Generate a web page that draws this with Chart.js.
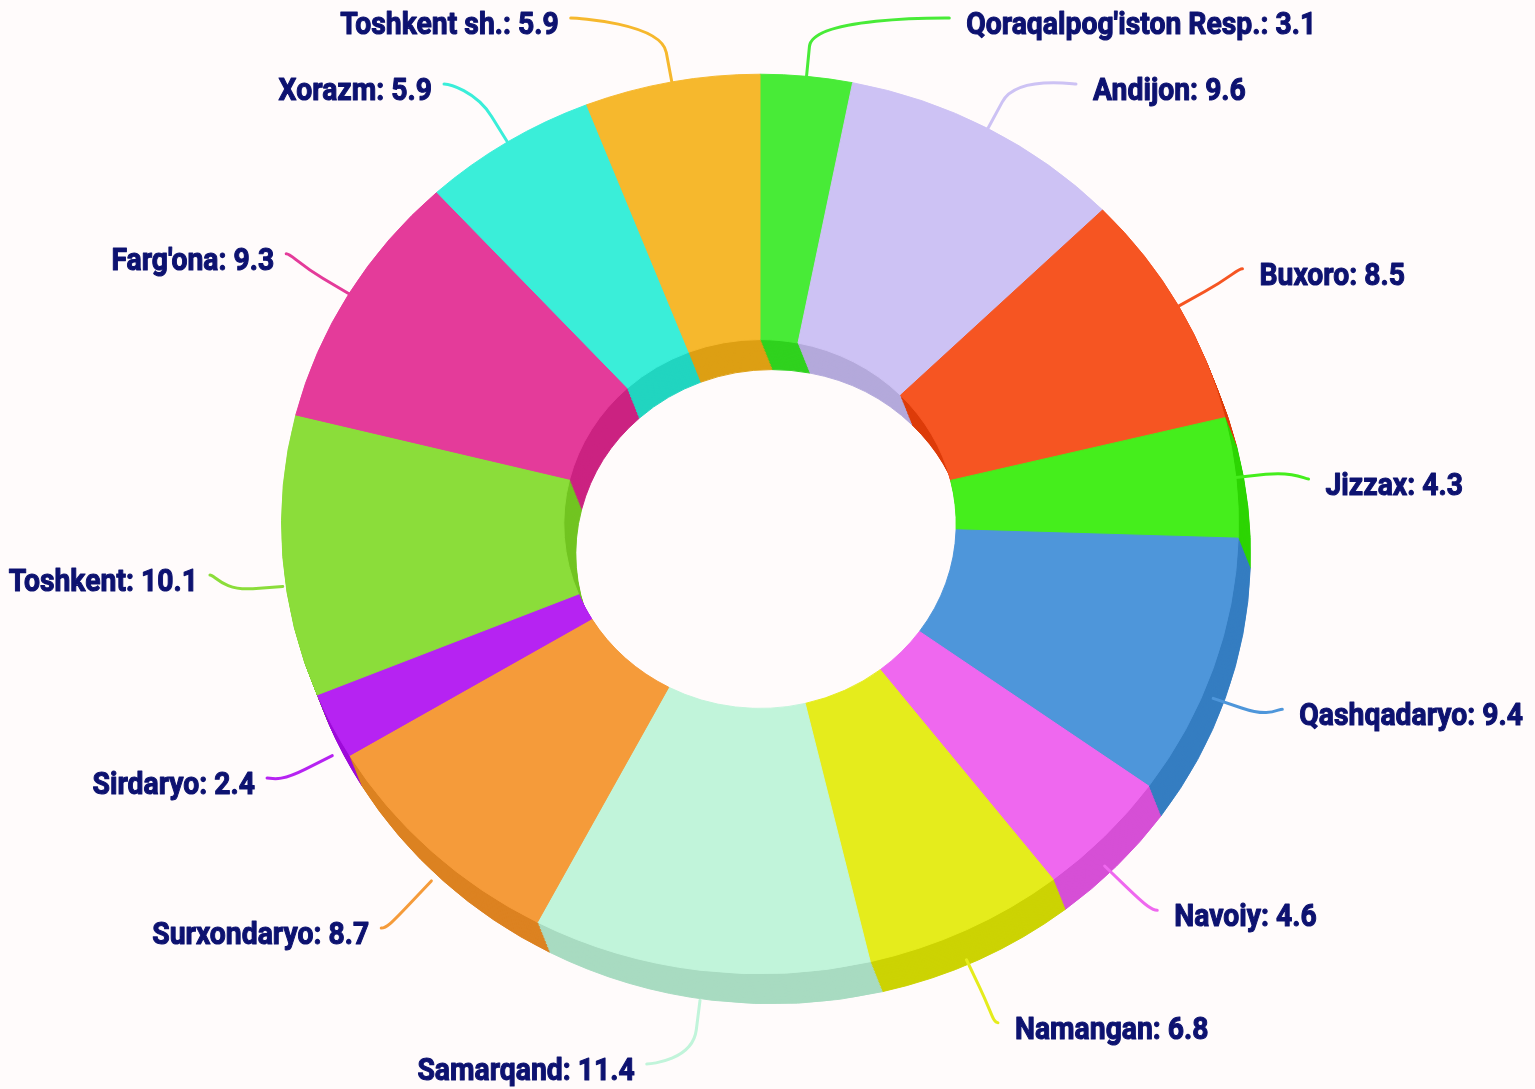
<!DOCTYPE html>
<html>
<head>
<meta charset="utf-8">
<script src="https://cdn.jsdelivr.net/npm/chart.js@4.4.0/dist/chart.umd.min.js"></script>
<style>
  html, body { margin: 0; padding: 0; background: #fffbfb; }
  #wrap { width: 1535px; height: 1089px; }
</style>
</head>
<body>
<div id="wrap"><canvas id="chart" width="1535" height="1089"></canvas></div>
<script>
const regions = [
  "Qoraqalpog'iston Resp.", 'Andijon', 'Buxoro', 'Jizzax', 'Qashqadaryo', 'Navoiy', 'Namangan',
  'Samarqand', 'Surxondaryo', 'Sirdaryo', 'Toshkent', "Farg'ona", 'Xorazm', 'Toshkent sh.'
];
const shares = [3.1, 9.6, 8.5, 4.3, 9.4, 4.6, 6.8, 11.4, 8.7, 2.4, 10.1, 9.3, 5.9, 5.9];
const sliceColors = [
  '#48eb37', '#cdc2f4', '#f65522', '#45ee1c', '#4e96da', '#ef68ef', '#e5ec1c',
  '#c1f4da', '#f59b3a', '#b623f2', '#8bdd3a', '#e43b9a', '#3aeed9', '#f6b82d'
];

// fake 3d look: squashed face + darker walls shifted down
const TILT = 0.94;
const DEPTH_X = 12;
const DEPTH_Y = 30;

const LABEL_FONT = 'bold 32px Roboto';
const LABEL_SQUEEZE = 0.885; // roughly a condensed face
const LABEL_COLOR = '#0d1270';

function darken(hex, amt) {
  const n = parseInt(hex.slice(1), 16);
  const ch = [(n >> 16) & 255, (n >> 8) & 255, n & 255].map(v => Math.max(0, v - amt));
  return 'rgb(' + ch.join(',') + ')';
}

const pie3d = {
  id: 'pie3d',
  beforeDatasetsDraw(chart) {
    const ctx = chart.ctx;
    const arcs = chart.getDatasetMeta(0).data;
    const cx = arcs[0].x, cy = arcs[0].y;
    ctx.save();
    ctx.translate(cx, cy);
    ctx.scale(1, TILT);
    ctx.translate(-cx, -cy);

    // walls, drawn back to front
    for (let k = 20; k >= 1; k--) {
      const ox = DEPTH_X * k / 20;
      const oy = DEPTH_Y * k / 20 / TILT;
      arcs.forEach((arc, i) => {
        const col = darken(sliceColors[i], 25);
        ctx.beginPath();
        ctx.arc(arc.x + ox, arc.y + oy, arc.outerRadius, arc.startAngle, arc.endAngle);
        ctx.arc(arc.x + ox, arc.y + oy, arc.innerRadius, arc.endAngle, arc.startAngle, true);
        ctx.closePath();
        ctx.fillStyle = col;
        ctx.strokeStyle = col;
        ctx.lineWidth = 1;
        ctx.fill();
        ctx.stroke();
      });
    }
  },
  afterDatasetsDraw(chart) {
    chart.ctx.restore();
  }
};

const sliceLabels = {
  id: 'sliceLabels',
  afterDraw(chart) {
    const ctx = chart.ctx;
    const arcs = chart.getDatasetMeta(0).data;
    const cx = arcs[0].x, cy = arcs[0].y;
    const R = arcs[0].outerRadius;
    const LR = R + 73;          // label ring (x and upper half)
    const LR_LOW = LR - 12;     // lower half is a bit flatter
    const LCY = cy + 12;
    const TOP = 18, BOTTOM = 1064, GAP = 66;

    const items = arcs.map((arc, i) => {
      const a = (arc.startAngle + arc.endAngle) / 2;
      const c = Math.cos(a), s = Math.sin(a);
      return {
        i, c, s,
        right: c >= 0,
        tx: cx + R * c,
        ty: cy + R * TILT * s + (s > 0 ? DEPTH_Y : 0),
        y: LCY + (s > 0 ? LR_LOW : LR) * s
      };
    });

    [true, false].forEach(side => {
      const list = items.filter(p => p.right === side).sort((p, q) => p.y - q.y);
      let prev = -Infinity;
      list.forEach(p => { p.y = Math.max(p.y, TOP, prev + GAP); prev = p.y; });
      let next = Infinity;
      for (let k = list.length - 1; k >= 0; k--) {
        list[k].y = Math.min(list[k].y, BOTTOM, next - GAP);
        next = list[k].y;
      }
    });

    items.forEach(p => {
      const dy = p.y - LCY;
      const ry = dy > 0 ? LR_LOW : LR;
      const dx = LR * Math.sqrt(Math.max(1 - (dy / ry) * (dy / ry), 0));
      const ex = p.right ? cx + dx : cx - dx;
      const ey = p.y;
      const bx = p.tx + 30 * p.c;
      const by = p.ty + 30 * p.s;

      ctx.save();
      ctx.beginPath();
      ctx.moveTo(ex, ey);
      ctx.bezierCurveTo(ex + (p.right ? -5 : 5), ey, 2 * bx - p.tx, 2 * by - p.ty, bx, by);
      ctx.lineTo(p.tx, p.ty);
      ctx.strokeStyle = sliceColors[p.i];
      ctx.lineWidth = 3;
      ctx.lineCap = 'round';
      ctx.stroke();

      ctx.font = LABEL_FONT;
      ctx.fillStyle = LABEL_COLOR;
      ctx.strokeStyle = LABEL_COLOR;
      ctx.lineWidth = 1.1;
      ctx.lineJoin = 'round';
      ctx.textBaseline = 'middle';
      ctx.textAlign = p.right ? 'left' : 'right';
      ctx.translate(p.right ? ex + 17 : ex - 12, ey + 8);
      ctx.scale(LABEL_SQUEEZE, 1);
      const txt = regions[p.i] + ': ' + shares[p.i];
      ctx.fillText(txt, 0, 0);
      ctx.strokeText(txt, 0, 0);
      ctx.restore();
    });
  }
};

new Chart(document.getElementById('chart'), {
  type: 'doughnut',
  data: {
    labels: regions,
    datasets: [{
      data: shares,
      backgroundColor: sliceColors,
      borderColor: sliceColors,
      borderWidth: 1,
      hoverOffset: 0,
      clip: false
    }]
  },
  options: {
    responsive: false,
    animation: false,
    devicePixelRatio: 1,
    events: [],
    cutout: '41%',
    layout: {
      padding: { left: 281, right: 296, top: 45, bottom: 86 }
    },
    plugins: {
      legend: { display: false },
      tooltip: { enabled: false }
    }
  },
  plugins: [pie3d, sliceLabels]
});
</script>
</body>
</html>
